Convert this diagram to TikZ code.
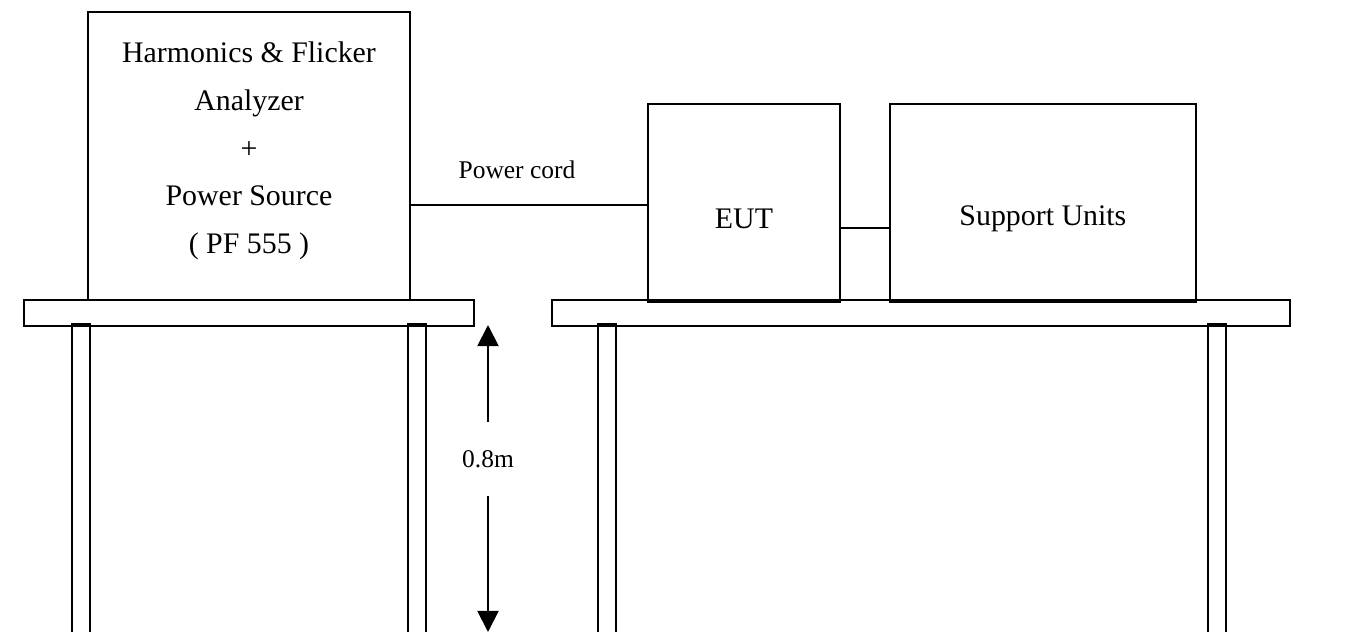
\documentclass[tikz,border=0pt]{standalone}
\usepackage{fontspec}
\setmainfont{Liberation Serif}
\usetikzlibrary{arrows.meta,positioning,calc}

\begin{document}
\begin{tikzpicture}[x=0.02cm,y=-0.02cm,
      unit/.style={draw,line width=1.1pt,inner sep=0pt,minimum height=3.96cm},
      boxtext/.style={align=center,font=\fontsize{17}{27.2}\selectfont},
      furniture/.style={draw,line width=1.1pt},
      cord/.style={line width=0.7pt},
      plug/.style={line width=1.4pt},
      dim/.style={-{Triangle[length=12pt,width=12pt]},line width=1.1pt},
      note/.style={font=\fontsize{14.5}{17}\selectfont}]
    \useasboundingbox (0,0) rectangle (1357,632);
    % tables
    \draw[furniture] (24,300) rectangle (474,326);
    \draw[furniture] (552,300) rectangle (1290,326);
    \foreach \x in {72,408,598,1208} {
      \draw[furniture] (\x,632) -- (\x,324) -- ++(18,0) -- ++(0,308);
    }
    % equipment
    \node[unit,minimum width=6.44cm,minimum height=5.76cm] (analyzer) at (249,156) {};
    \node[boxtext] (analyzerlabel) at ([yshift=0.1cm]analyzer.center)
      {Harmonics \& Flicker\\Analyzer\\+\\Power Source\\( PF 555 )};
    \node[unit,minimum width=3.84cm] (eut) at (744,203) {};
    \node[boxtext] (eutlabel) at ([yshift=-0.31cm]eut.center) {EUT};
    \node[unit,minimum width=6.12cm,right=0.96cm of eut] (support) {};
    \node[boxtext] (supportlabel) at ([yshift=-0.31cm]support.center) {Support Units};
    % cables
    \coordinate (cordstart) at ([yshift=-0.04cm]analyzer.east |- eut.west);
    \coordinate (cordend) at ([yshift=-0.04cm]eut.west);
    \draw[cord] (cordstart) -- (cordend);
    \draw[plug] (cordstart) -- ++(30,0);
    \draw[plug] (cordend) -- ++(-31,0);
    \node[note] (cordlabel) at (517,170) {Power cord};
    \coordinate (link) at ([yshift=-0.5cm]eut.east);
    \draw[line width=1.1pt] (link) -- (link -| support.west);
    % table height
    \node[note,minimum height=1.46cm] (height) at (488,459) {0.8m};
    \coordinate (dimtop) at (488,325);
    \coordinate (dimbottom) at (488,632);
    \draw[dim] (height.north) -- (dimtop);
    \draw[dim] (height.south) -- (dimbottom);
  \end{tikzpicture}
\end{document}
